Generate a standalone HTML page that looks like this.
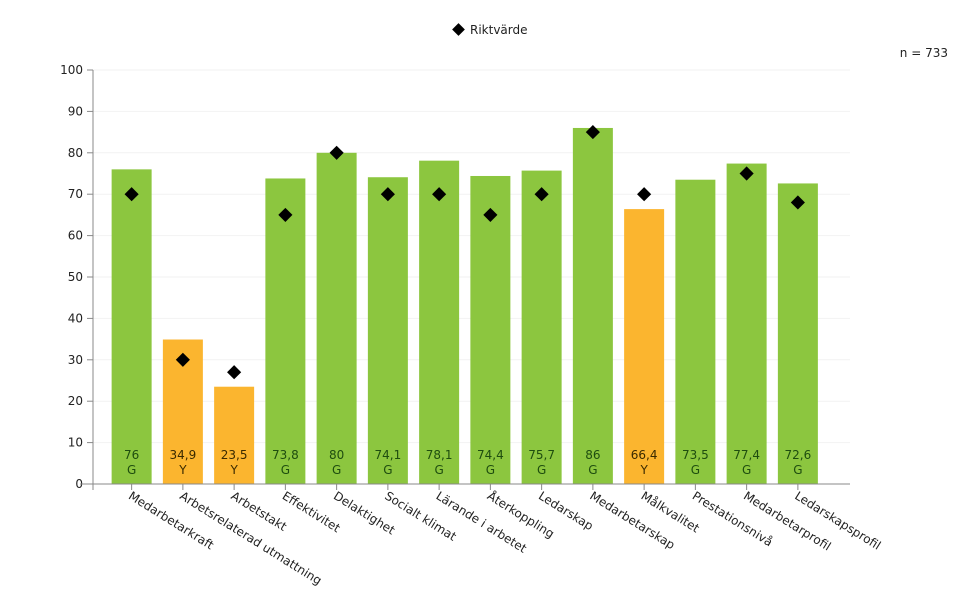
<!DOCTYPE html>
<html><head><meta charset="utf-8"><style>
html,body{margin:0;padding:0;background:#fff}
svg{display:block;font-family:"DejaVu Sans","Liberation Sans",sans-serif}
</style></head><body>
<svg id="chart" width="980" height="603" viewBox="0 0 980 603" xmlns="http://www.w3.org/2000/svg">
<g>
<rect x="454" y="25" width="9" height="9" transform="rotate(45 458.5 29.5)" fill="#000"/>
<text x="470" y="34" font-size="12" fill="#222">Riktvärde</text>
</g>
<text x="948" y="57" font-size="12" fill="#222" text-anchor="end">n = 733</text>
<g id="grid"></g><g id="bars"></g><g id="axes"></g><g id="marks"></g>
</svg>
<script>
const categories=["Medarbetarkraft","Arbetsrelaterad utmattning","Arbetstakt","Effektivitet","Delaktighet","Socialt klimat","Lärande i arbetet","Återkoppling","Ledarskap","Medarbetarskap","Målkvalitet","Prestationsnivå","Medarbetarprofil","Ledarskapsprofil"];
const values=[76,34.9,23.5,73.8,80,74.1,78.1,74.4,75.7,86,66.4,73.5,77.4,72.6];
const grades=["G","Y","Y","G","G","G","G","G","G","G","Y","G","G","G"];
const targets=[70,30,27,65,80,70,70,65,70,85,70,null,75,68];
const yTicks=[0,10,20,30,40,50,60,70,80,90,100];
const NS="http://www.w3.org/2000/svg";
const y0=484,yTop=70,yMax=100;
const y=v=>y0-(v/yMax)*(y0-yTop);
const x0=106,step=51.25;
const xc=i=>x0+step*(i+0.5);
const bw=40;
function mk(tag,attrs,parent){const e=document.createElementNS(NS,tag);for(const k in attrs)e.setAttribute(k,attrs[k]);document.getElementById(parent).appendChild(e);return e;}
yTicks.forEach(t=>{
 if(t>0){const g=mk('line',{x1:93,x2:850,y1:y(t),y2:y(t),stroke:'#f2f2f2'},'grid');
 
 }
 const tk=mk('line',{x1:87,x2:93,y1:y(t),y2:y(t),stroke:'#888'},'axes');
 
 
 const tl=mk('text',{x:83,y:y(t)+4,'font-size':12,'text-anchor':'end',fill:'#222'},'axes');
 tl.textContent=t;
 
 
});
const ya=mk('line',{x1:93,x2:93,y1:yTop,y2:490,stroke:'#888'},'axes');


const xa=mk('line',{x1:80,x2:850,y1:y0,y2:y0,stroke:'#888'},'axes');


categories.forEach((c,i)=>{
 const cx=xc(i),v=values[i],col=grades[i]=="G"?"#8cc63f":"#fbb52f";
 const r=mk('rect',{x:cx-bw/2,y:y(v),width:bw,height:y0-y(v),fill:col},'bars');
 
 
 const tc=grades[i]=="G"?"#1e4d0f":"#3a2a00";
 const t1=mk('text',{x:cx,y:459,'font-size':12,'text-anchor':'middle',fill:tc},'bars');
 t1.textContent=String(v).replace('.',',');
 
 
 const t2=mk('text',{x:cx,y:474,'font-size':12,'text-anchor':'middle',fill:tc},'bars');
 t2.textContent=grades[i];
 
 
 const tk=mk('line',{x1:cx,x2:cx,y1:y0,y2:y0+6,stroke:'#888'},'axes');
 
 
 const lb=mk('text',{x:cx-4,y:y0+14,'font-size':12,fill:'#222',transform:`rotate(32 ${cx-4} ${y0+14})`},'axes');
 lb.textContent=c;
 
 
 if(targets[i]!=null){
  const ty=y(targets[i]);
  const d=mk('rect',{x:cx-5,y:ty-5,width:10,height:10,fill:'#000',transform:`rotate(45 ${cx} ${ty})`},'marks');
  
  
 }
});
</script>
</body></html>
